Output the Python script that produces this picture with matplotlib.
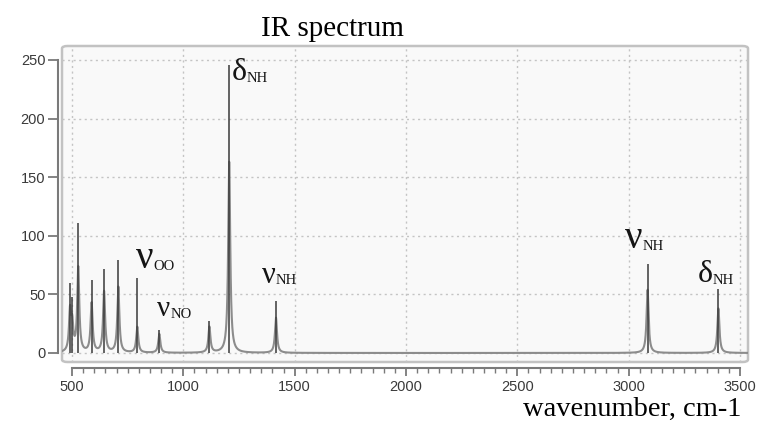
import numpy as np
import matplotlib
matplotlib.use('Agg')
import matplotlib.pyplot as plt
from matplotlib.patches import FancyBboxPatch
from matplotlib.ticker import MultipleLocator

# 피크 위치 (cm-1), 스틱 높이, 밴드(스펙트럼 곡선) 높이
peak_wn = [491, 501, 528, 588, 644, 708, 793, 892, 1117, 1206, 1416, 3085, 3403]
stick_h = [60, 48, 111, 62, 72, 79, 64, 20, 27, 246, 44, 76, 55]
band_h = [34, 22, 72, 42, 52, 56, 22, 16, 22, 163, 30, 54, 38]

# 라벨: (그리스 문자, 아래 첨자, 위치 wn, 위치 y, 크기)
labels = [
    ('ν', 'OO', 787, 72.5, 28),
    ('ν', 'NO', 882, 31.5, 21),
    ('δ', 'NH', 1218, 233, 23),
    ('ν', 'NH', 1353, 60, 22),
    ('ν', 'NH', 2984, 89.5, 28),
    ('δ', 'NH', 3311, 60.5, 23),
]

plt.rcParams['font.family'] = ['Liberation Sans', 'DejaVu Sans']

fig = plt.figure(figsize=(7.59, 4.28), dpi=100)
ax = fig.add_axes([62 / 759, 1 - 362 / 428, 686 / 759, 316 / 428])
ax.set_facecolor('none')

# 배경 박스
box = FancyBboxPatch((0, 0), 1, 1, boxstyle='round,pad=0,rounding_size=0.008',
                     transform=ax.transAxes, fc='#f9f9f9', ec='#c2c2c2',
                     lw=1.8, zorder=0, clip_on=False)
ax.add_patch(box)

# 로렌츠 선형으로 스펙트럼 곡선
x = np.linspace(440, 3540, 12400)
gamma = 5.5
y = np.zeros_like(x)
for wn, h in zip(peak_wn, band_h):
    y += h * gamma**2 / ((x - wn)**2 + gamma**2)

ax.plot(x, y, color='#8c8c8c', lw=1.5, zorder=3)
ax.vlines(peak_wn, 0, stick_h, color='#3a3a3a', lw=1.1, zorder=4)

ax.set_xlim(455, 3536)
ax.set_ylim(-7.7, 261.9)

ax.xaxis.set_major_locator(MultipleLocator(500))
ax.xaxis.set_minor_locator(MultipleLocator(50))
ax.yaxis.set_major_locator(MultipleLocator(50))

ax.grid(True, which='major', ls=(0, (1.5, 2.5)), color='#c4c4c4', lw=1)

for s in ['top', 'right']:
    ax.spines[s].set_visible(False)
ax.spines['left'].set_position(('outward', 3))
ax.spines['left'].set_bounds(0, 250)
ax.spines['bottom'].set_position(('outward', 4.5))
ax.spines['bottom'].set_bounds(500, 3500)
for s in ['left', 'bottom']:
    ax.spines[s].set_color('#7a7a7a')
    ax.spines[s].set_linewidth(1.5)

ax.tick_params(axis='y', length=7, width=1.3, color='#7a7a7a', pad=2,
               labelsize=10.5, labelcolor='#3a3a3a')
ax.tick_params(axis='x', which='major', length=6, width=1.3, color='#7a7a7a',
               pad=2.5, labelsize=10.5, labelcolor='#3a3a3a')
ax.tick_params(axis='x', which='minor', length=3.5, width=1, color='#7a7a7a')

fig.text(332 / 759, 1 - 29 / 428, 'IR spectrum', family='Liberation Serif',
         fontsize=21, ha='center', va='center', color='black')
fig.text(741 / 759, 1 - 409 / 428, 'wavenumber, cm-1', family='Liberation Serif',
         fontsize=20.5, ha='right', va='center', color='black')

# 그리스 문자 + 아래 첨자
fig.canvas.draw()
rend = fig.canvas.get_renderer()
for g, sub, wx, wy, size in labels:
    t = ax.text(wx, wy, g, family='Liberation Serif', fontsize=size,
                ha='left', va='baseline', color='#151515', zorder=5)
    bb = t.get_window_extent(renderer=rend)
    px, py = ax.transData.transform((wx, wy))
    fig.text(bb.x1 / fig.bbox.width, py / fig.bbox.height - 0.004, sub,
             family='Liberation Serif', fontsize=10.5, ha='left', va='baseline',
             color='#151515')

fig.savefig('out.png', dpi=100)
